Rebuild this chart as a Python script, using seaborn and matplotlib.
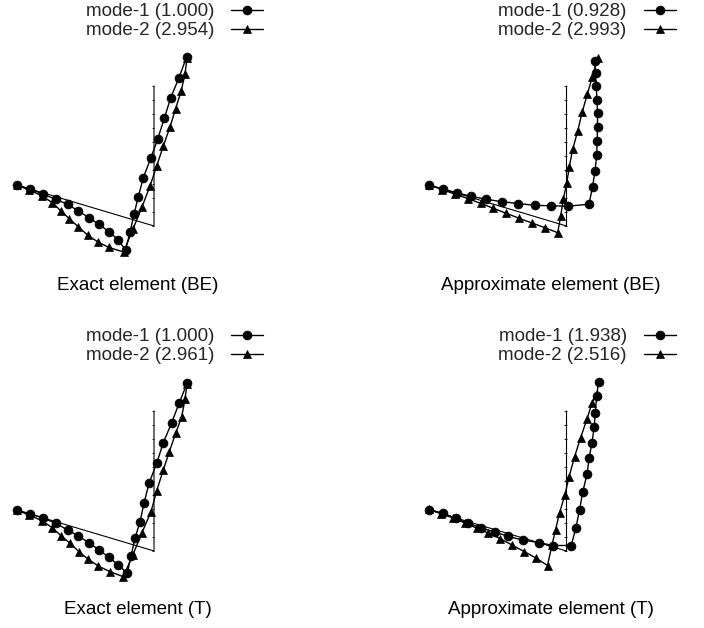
import numpy as np
import matplotlib
matplotlib.use("Agg")
import matplotlib.pyplot as plt
import seaborn as sns

# ---- mode shape coordinates (screen units, y pointing down) ----
# Exact element (BE)
BE_EXACT_M1_X = [16.7, 30, 42.7, 55.7, 67.7, 78.3, 89, 99, 109, 118.3, 125.5,
                 130, 134, 138.3, 143.3, 150.7, 157.7, 164.3, 170.7, 179, 186.7]
BE_EXACT_M1_Y = [185, 189, 194, 199.3, 204.3, 211, 217.7, 224.3, 231.7, 240, 250,
                 232.3, 214.3, 196.7, 177.7, 158.3, 139, 118.3, 97.7, 77.7, 56.7]
BE_EXACT_M2_X = [16.7, 29, 41.5, 52, 60.5, 69, 78, 87.5, 97.5, 108.5, 123.5,
                 133, 142, 150, 156.7, 163.3, 170, 175.7, 181.2, 185, 187]
BE_EXACT_M2_Y = [185, 190, 195.5, 202.5, 210.5, 218.5, 226.5, 235, 241.7, 247.3, 252,
                 229, 207, 186, 166, 146, 127, 108.5, 91, 74, 58]

# Approximate element (BE)
BE_APPROX_M1_X = [16.5, 30.8, 44.2, 58.2, 73.3, 89.2, 105.5, 122, 138.7, 155.5, 176.5,
                  180, 182.5, 184.2, 184.7, 185, 185, 184.5, 183.7, 183, 182.5]
BE_APPROX_M1_Y = [185, 189.2, 192.8, 196.2, 199.2, 201.7, 203.5, 205.3, 205.8, 206.2, 204.2,
                  187, 171.3, 155.3, 141, 127, 113, 99.5, 86.2, 73.3, 61]
BE_APPROX_M2_X = [16.5, 29.4, 42.2, 55.1, 68, 80.9, 93.7, 106.6, 119.5, 132.3, 145.2,
                  148.2, 150.8, 154.2, 156.8, 160.2, 165.2, 169.8, 174.8, 179.8, 185]
BE_APPROX_M2_Y = [185, 189.5, 194, 198.5, 203.3, 208.3, 213.3, 218.3, 223, 227.7, 232.7,
                  216, 199, 183.3, 166.7, 149.3, 131, 111.7, 94.3, 77, 58]

# Exact element (T)
T_EXACT_M1_X = [16.7, 30, 42.7, 55.7, 67.7, 78.3, 89, 99, 109, 118.3, 127.3,
                131, 135, 140, 144, 149, 156.7, 163.3, 171.7, 179.3, 187.3]
T_EXACT_M1_Y = [185, 189, 192.7, 198.3, 205, 211, 217.7, 225, 232.3, 240, 248.3,
                231, 213.3, 196.7, 178.3, 158.3, 138.3, 117.7, 97.7, 77.7, 57.7]
T_EXACT_M2_X = [16.7, 29, 41.5, 52, 61, 70, 79, 88.3, 98.3, 110, 123.3,
                133, 141.7, 151, 156.7, 163.3, 169.3, 175.7, 181.7, 185, 187]
T_EXACT_M2_Y = [185, 190, 195.5, 202.5, 210.7, 218.3, 226.7, 234.3, 241, 246.7, 251.7,
                229.5, 208.3, 186.7, 165.7, 145, 126.7, 108.3, 91.7, 74.3, 58.5]

# Approximate element (T)
T_APPROX_M1_X = [16.5, 30.5, 43.3, 55.5, 68.7, 82.2, 95.5, 110, 126, 140.5, 158.7,
                 163.5, 167, 170.3, 174.5, 176.7, 179.5, 181.7, 182.8, 184.2, 186]
T_APPROX_M1_Y = [184.5, 188.3, 193.3, 198, 203, 207, 211.3, 215, 217.5, 220.5, 220.5,
                 202.5, 185, 166.7, 149.2, 132.5, 117.5, 102, 87.5, 70.8, 56.7]
T_APPROX_M2_X = [16.5, 28.5, 40.5, 52.5, 64, 75.5, 87.5, 99.5, 111.5, 123.5, 135,
                 139.5, 143, 147, 152.5, 156.5, 162, 168, 174.5, 179.5, 184]
T_APPROX_M2_Y = [184.3, 188.5, 193, 198, 203, 208, 213.5, 220, 226.5, 233, 240.5,
                 220, 205, 188, 169.5, 152, 132, 113, 94, 78, 69]

# undeformed frame: support, knee, top of column
FRAME_X = [16.7, 154, 154]
FRAME_Y = [185, 226, 86]

TITLES = ["Exact element (BE)", "Approximate element (BE)",
          "Exact element (T)", "Approximate element (T)"]
MODE1_LABELS = ["mode-1 (1.000)", "mode-1 (0.928)", "mode-1 (1.000)", "mode-1 (1.938)"]
MODE2_LABELS = ["mode-2 (2.954)", "mode-2 (2.993)", "mode-2 (2.961)", "mode-2 (2.516)"]

PANELS = [
    (BE_EXACT_M1_X, BE_EXACT_M1_Y, BE_EXACT_M2_X, BE_EXACT_M2_Y),
    (BE_APPROX_M1_X, BE_APPROX_M1_Y, BE_APPROX_M2_X, BE_APPROX_M2_Y),
    (T_EXACT_M1_X, T_EXACT_M1_Y, T_EXACT_M2_X, T_EXACT_M2_Y),
    (T_APPROX_M1_X, T_APPROX_M1_Y, T_APPROX_M2_X, T_APPROX_M2_Y),
]

sns.set_style("white")
plt.rcParams["font.family"] = ["Liberation Sans", "DejaVu Sans"]

W, H = 704, 628
fig = plt.figure(figsize=(W / 100, H / 100), dpi=100)

# panel boxes in pixels: (left, top, width, height)
boxes = [(0, 0, 412.5, 325), (412.5, 0, 291.5, 325),
         (0, 325, 412.5, 303), (412.5, 325, 291.5, 303)]

for i, ((l, t, w, h), (m1x, m1y, m2x, m2y)) in enumerate(zip(boxes, PANELS)):
    ax = fig.add_axes([l / W, 1 - (t + h) / H, w / W, h / H])
    ax.set_axis_off()

    # undeformed frame with ticks on the column
    ax.plot(FRAME_X, FRAME_Y, color="black", lw=0.8, zorder=1)
    ticks = np.linspace(FRAME_Y[2], FRAME_Y[1], 11)
    ax.hlines(ticks, FRAME_X[1] - 2.5, FRAME_X[1], color="black", lw=0.6, zorder=1)

    sns.lineplot(x=m2x, y=m2y, ax=ax, sort=False, estimator=None, color="black",
                 lw=1.0, marker="^", markersize=5.8, markeredgecolor="black",
                 markeredgewidth=0.5, legend=False, zorder=2)
    h2 = ax.lines[-1]
    sns.lineplot(x=m1x, y=m1y, ax=ax, sort=False, estimator=None, color="black",
                 lw=1.0, marker="o", markersize=6.4, markeredgecolor="black",
                 markeredgewidth=0.5, legend=False, zorder=3)
    h1 = ax.lines[-1]
    ax.set_xlim(0, w)
    ax.set_ylim(h, 0)

    ax.legend([h1, h2], [MODE1_LABELS[i], MODE2_LABELS[i]], markerfirst=False,
              frameon=False, loc="upper right", bbox_to_anchor=(263, 3),
              bbox_transform=ax.transData, fontsize=13.5, handlelength=1.7,
              handletextpad=0.9, labelspacing=0.1, borderpad=0, borderaxespad=0)

    ax.text(138, 285, TITLES[i], ha="center", va="center", fontsize=13.5,
            color="black")

fig.savefig("out.png", dpi=100)
